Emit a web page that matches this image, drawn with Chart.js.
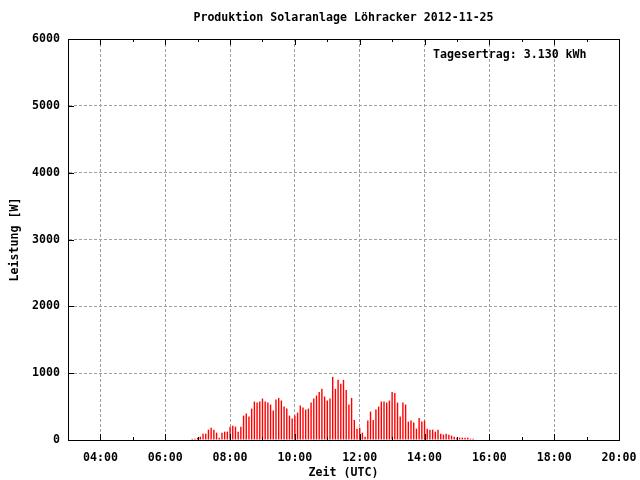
<!DOCTYPE html>
<html>
<head>
<meta charset="utf-8">
<script src="https://cdn.jsdelivr.net/npm/chart.js@4"></script>
<style>
  html, body { margin: 0; padding: 0; background: #fff; }
  #wrap { width: 640px; height: 480px; }
</style>
</head>
<body>
<div id="wrap"><canvas id="myChart" width="640" height="480"></canvas></div>
<script>
// samples every 5 minutes, first one at 06:50 UTC
const startTime = '06:50';
const stepMinutes = 5;
const power = [
  20, 20, 35, 50, 95, 95, 155, 185, 155, 110,
  35, 110, 125, 125, 200, 215, 200, 125, 200, 365,
  395, 350, 470, 575, 560, 575, 620, 575, 560, 530,
  440, 605, 630, 590, 500, 470, 365, 320, 365, 410,
  515, 485, 455, 470, 560, 620, 665, 720, 765, 650,
  590, 620, 945, 765, 900, 840, 900, 750, 530, 630,
  300, 170, 185, 110, 50, 290, 425, 300, 455, 500,
  575, 575, 560, 590, 720, 705, 560, 350, 560, 530,
  275, 290, 260, 170, 330, 275, 290, 170, 155, 155,
  125, 155, 95, 80, 95, 80, 65, 50, 35, 35,
  35, 35, 35, 20, 20
];
const xHours = [3, 20];          // axis range in hours UTC
const yTicks = [0, 1000, 2000, 3000, 4000, 5000, 6000];
const title = 'Produktion Solaranlage Löhracker 2012-11-25';
const yieldText = 'Tagesertrag: 3.130 kWh';

const FONT = '"DejaVu Sans Mono", "Liberation Mono", monospace';
const FSIZE = 11.6;
const [h0, m0] = startTime.split(':').map(Number);
const points = power.map((w, i) => ({ x: h0 + (m0 + i * stepMinutes) / 60, y: w }));

function hhmm(v) {
  return (v < 10 ? '0' : '') + v + ':00';
}

const frame = {
  id: 'frame',
  afterDatasetsDraw(chart) {
    const { ctx, chartArea: a, scales: { x, y } } = chart;
    ctx.save();
    ctx.strokeStyle = '#000';
    ctx.lineWidth = 1;
    ctx.beginPath();
    x.ticks.forEach(t => {
      const px = Math.round(x.getPixelForValue(t.value)) + 0.5;
      const len = t.value % 2 === 0 ? 6 : 3;
      ctx.moveTo(px, a.bottom); ctx.lineTo(px, a.bottom - len);
      ctx.moveTo(px, a.top); ctx.lineTo(px, a.top + len);
    });
    y.ticks.forEach(t => {
      const py = Math.round(y.getPixelForValue(t.value)) + 0.5;
      ctx.moveTo(a.left, py); ctx.lineTo(a.left + 6, py);
    });
    ctx.stroke();
    ctx.strokeRect(Math.round(a.left) + 0.5, Math.round(a.top) + 0.5,
      Math.round(a.width), Math.round(a.height));
    ctx.fillStyle = '#000';
    ctx.font = 'bold ' + FSIZE + 'px ' + FONT;
    ctx.textBaseline = 'middle';
    ctx.textAlign = 'left';
    ctx.fillText(yieldText, a.right - 186, a.top + 16);
    // title centred over the plot area
    ctx.textAlign = 'center';
    ctx.fillText(title, (a.left + a.right) / 2, 18);
    ctx.restore();
  }
};

const ctx = document.getElementById('myChart').getContext('2d');
const myChart = new Chart(ctx, {
  type: 'bar',
  data: {
    datasets: [{
      data: points,
      backgroundColor: '#ff0000',
      borderWidth: 0,
      inflateAmount: 0,
      barThickness: 1.4
    }]
  },
  options: {
    responsive: false,
    animation: false,
    layout: { padding: { left: 0, right: 21, top: 39, bottom: 0 } },
    plugins: {
      legend: { display: false },
      tooltip: { enabled: false },
      title: { display: false }
    },
    scales: {
      x: {
        type: 'linear',
        min: xHours[0],
        max: xHours[1],
        offset: false,
        afterFit: s => { s.height = 40; s.paddingLeft = 0; s.paddingRight = 0; },
        ticks: {
          stepSize: 1,
          autoSkip: false,
          maxRotation: 0,
          padding: 11,
          color: '#000',
          font: { family: FONT, size: FSIZE, weight: 'bold' },
          callback: v => (v % 2 === 0 ? hhmm(v) : '')
        },
        grid: {
          offset: false,
          drawTicks: false,
          color: c => (c.tick && c.tick.value % 2 === 0 ? '#a0a0a0' : 'rgba(0,0,0,0)'),
          lineWidth: 1
        },
        border: { display: true, color: '#000', dash: [3, 2] },
        title: {
          display: true,
          text: 'Zeit (UTC)',
          color: '#000',
          font: { family: FONT, size: FSIZE, weight: 'bold' },
          padding: { top: 0, bottom: 0 }
        }
      },
      y: {
        min: yTicks[0],
        max: yTicks[yTicks.length - 1],
        afterFit: s => { s.width = 68; s.paddingTop = 0; s.paddingBottom = 0; },
        afterBuildTicks: s => { s.ticks = yTicks.map(v => ({ value: v })); },
        ticks: {
          padding: 8,
          color: '#000',
          font: { family: FONT, size: FSIZE, weight: 'bold' },
          callback: v => String(v)
        },
        grid: { drawTicks: false, color: '#a0a0a0', lineWidth: 1 },
        border: { display: true, color: '#000', dash: [3, 2] },
        title: {
          display: true,
          text: 'Leistung [W]',
          color: '#000',
          font: { family: FONT, size: FSIZE, weight: 'bold' },
          padding: { top: 8, bottom: 0 }
        }
      }
    }
  },
  plugins: [frame]
});
</script>
</body>
</html>
